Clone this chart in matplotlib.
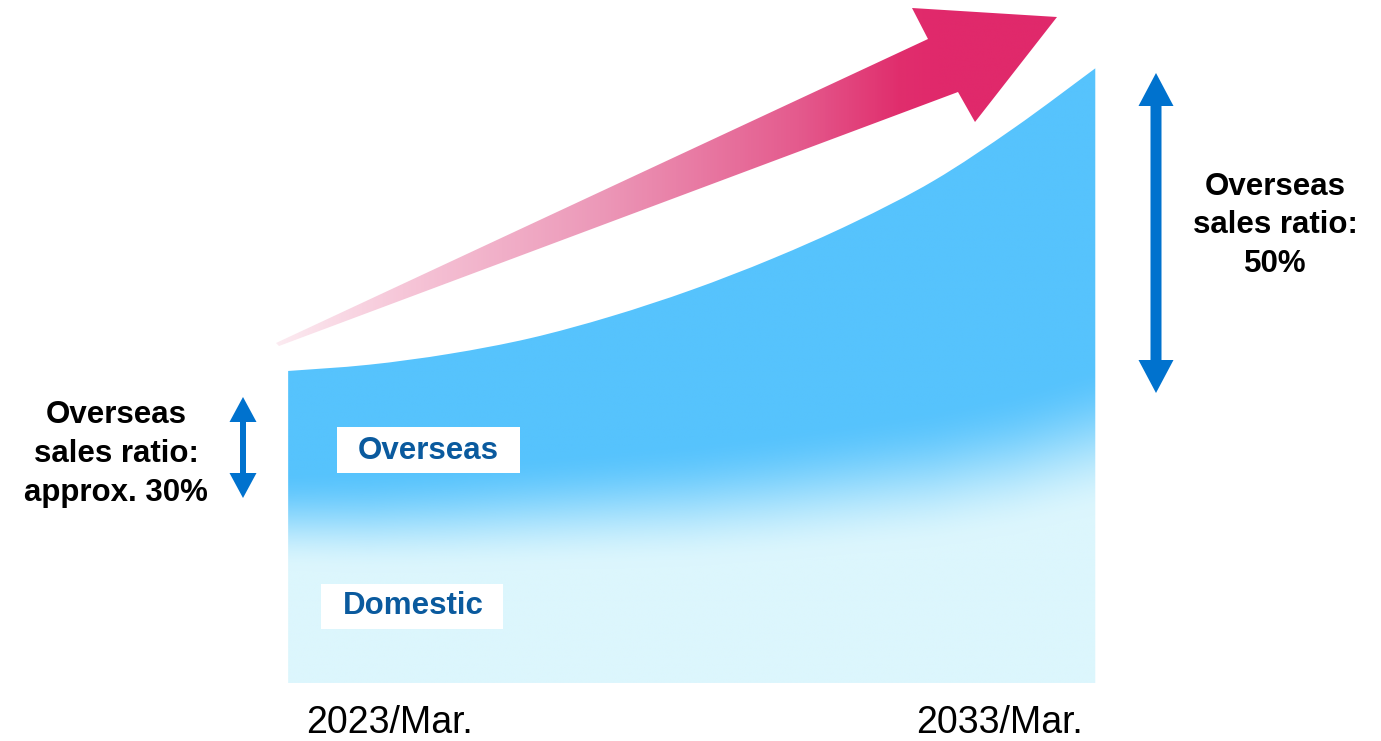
import numpy as np
import matplotlib.pyplot as plt
from matplotlib.patches import Polygon, Rectangle, PathPatch
from matplotlib.path import Path
from matplotlib.colors import LinearSegmentedColormap, to_rgb

plt.rcParams['font.family'] = ['Liberation Sans', 'DejaVu Sans']

# sales index (2023 = 100) and the domestic part of it
years = np.arange(2023, 2034)
sales = [100, 102, 105.5, 110.5, 117.5, 126, 136, 147.5, 161, 178, 197]
domestic = [52, 52, 53, 54.5, 56, 57.5, 60, 63, 66, 71, 78]

period_labels = ["2023/Mar.", "2033/Mar."]
segment_labels = ["Overseas", "Domestic"]
ratio_start = ["Overseas", "sales ratio:", "approx. 30%"]
ratio_end = ["Overseas", "sales ratio:", "50%"]

overseas_color = '#56C3FD'
domestic_color = '#DCF6FD'
label_blue = '#0A5A9E'
arrow_blue = '#0072CE'

fig = plt.figure(figsize=(13.81, 7.41), dpi=100)

# data axes: years across, sales index up
ax = fig.add_axes([0, 0, 1, 1])

# smooth top edge through the sales points (Catmull-Rom as cubic Beziers)
pts = np.column_stack([years, sales]).astype(float)
padded = np.vstack([pts[0], pts, pts[-1]])
verts = [tuple(pts[0])]
codes = [Path.MOVETO]
for i in range(len(pts) - 1):
    p0, p1, p2, p3 = padded[i], padded[i + 1], padded[i + 2], padded[i + 3]
    verts += [tuple(p1 + (p2 - p0) / 6), tuple(p2 - (p3 - p1) / 6), tuple(p2)]
    codes += [Path.CURVE4] * 3
verts += [(years[-1], 0), (years[0], 0), (years[0], sales[0])]
codes += [Path.LINETO, Path.LINETO, Path.CLOSEPOLY]
area = PathPatch(Path(verts, codes), fc='none', ec='none')
ax.add_patch(area)

# soft overseas / domestic split, as a gradient clipped to the area
gx = np.linspace(years[0], years[-1], 600)
gy = np.linspace(0, 200, 700)
split = np.interp(gx, years, domestic)
spread = np.linspace(16, 24, gx.size)
t = (gy[:, None] - split[None, :]) / spread[None, :]
t = np.clip((t + 1) / 2, 0, 1)
t = t * t * (3 - 2 * t)
c0 = np.array(to_rgb(domestic_color))
c1 = np.array(to_rgb(overseas_color))
img = c0 + (c1 - c0) * t[..., None]
im = ax.imshow(img, extent=[years[0], years[-1], 0, 200], origin='lower',
               aspect='auto', interpolation='bilinear')
im.set_clip_path(area)
ax.set_xlim(2019.43, 2036.54)
ax.set_ylim(-18.6, 218.9)
ax.axis('off')

# overlay in pixel units for the decorations
ov = fig.add_axes([0, 0, 1, 1])
ov.set_xlim(0, 1381)
ov.set_ylim(741, 0)
ov.axis('off')

# big growth arrow with pink -> crimson gradient
arrow_pts = [(276, 343), (928, 39), (912, 8), (1057, 17), (975, 122), (958, 92), (279, 346)]
arrow = Polygon(arrow_pts, closed=True, fc='none', ec='none')
ov.add_patch(arrow)
pink = LinearSegmentedColormap.from_list('pink', [
    (0.0, '#FCEBF1'), (0.19, '#F6C6D8'), (0.49, '#EC98B8'),
    (0.79, '#E45A8D'), (0.94, '#E02E6D'), (1.0, '#E0296B')])
ax_x = np.linspace(270, 1060, 800)
ramp = np.clip((ax_x - 276) / (940 - 276), 0, 1)
ramp_img = np.tile(ramp, (40, 1))
arr_im = ov.imshow(ramp_img, cmap=pink, vmin=0, vmax=1, extent=[270, 1060, 350, 0],
                   aspect='auto', interpolation='bilinear')
arr_im.set_clip_path(arrow)
ov.set_xlim(0, 1381)
ov.set_ylim(741, 0)


def double_arrow(x, top, bottom, shaft, head_w, head_l):
    pts = [(x, top), (x + head_w / 2, top + head_l), (x + shaft / 2, top + head_l),
           (x + shaft / 2, bottom - head_l), (x + head_w / 2, bottom - head_l),
           (x, bottom), (x - head_w / 2, bottom - head_l), (x - shaft / 2, bottom - head_l),
           (x - shaft / 2, top + head_l), (x - head_w / 2, top + head_l)]
    ov.add_patch(Polygon(pts, closed=True, fc=arrow_blue, ec='none'))


double_arrow(243, 397, 498, 6, 27, 25)
double_arrow(1156, 73, 393, 11, 35, 33)

# segment labels in white boxes
ov.add_patch(Rectangle((337, 427), 183, 46, fc='white', ec='none'))
ov.add_patch(Rectangle((321, 584), 182, 45, fc='white', ec='none'))
ov.text(428.5, 459, segment_labels[0], ha='center', va='baseline',
        fontsize=22.5, fontweight='bold', color=label_blue)
ov.text(413, 614, segment_labels[1], ha='center', va='baseline',
        fontsize=22.5, fontweight='bold', color=label_blue)

# ratio labels
for line, yb in zip(ratio_start, [423, 462, 501]):
    ov.text(116, yb, line, ha='center', va='baseline', fontsize=22.5,
            fontweight='bold', color='black')
for line, yb in zip(ratio_end, [195, 233, 272]):
    ov.text(1275, yb, line, ha='center', va='baseline', fontsize=22.5,
            fontweight='bold', color='black')

# period labels
ov.text(390, 733, period_labels[0], ha='center', va='baseline', fontsize=27, color='black')
ov.text(1000, 733, period_labels[1], ha='center', va='baseline', fontsize=27, color='black')

fig.savefig('out.png', dpi=100)
